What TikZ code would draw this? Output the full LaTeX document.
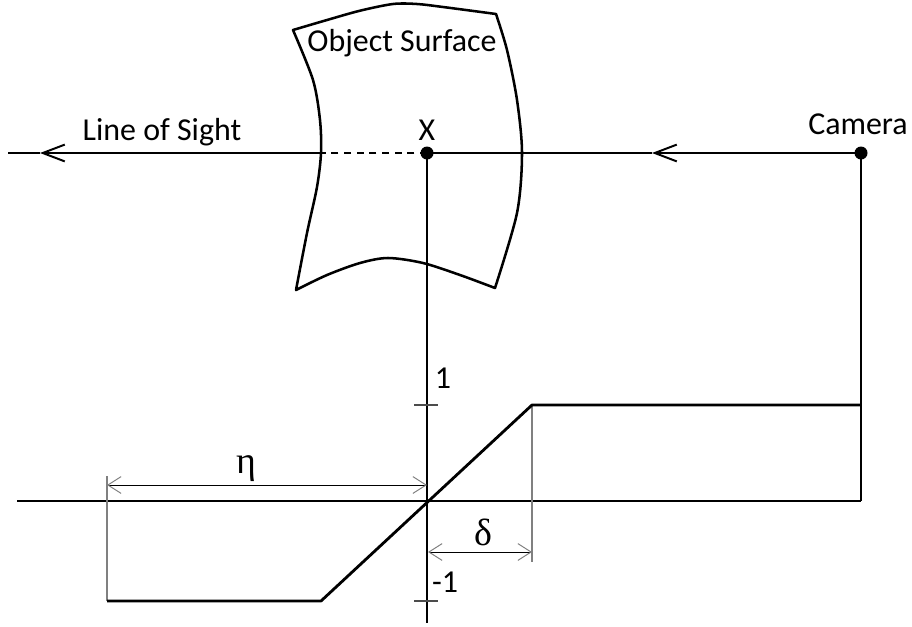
\documentclass[tikz,border=0pt]{standalone}
\usepackage{fontspec}
\setmainfont{Carlito}
\newfontfamily\greekfont{Liberation Serif}
\usetikzlibrary{arrows.meta}
\tikzset{
  sight/.style={line width=1.9pt},
  barb/.style={-{Straight Barb[length=0.55cm,width=0.42cm,line width=1.4pt]}},
  dimline/.style={line width=0.7pt,{Straight Barb[length=0.33cm,width=0.42cm,gray,line width=0.7pt]}-{Straight Barb[length=0.33cm,width=0.42cm,gray,line width=0.7pt]}},
  extline/.style={gray,line width=1.2pt},
  lbl/.style={inner sep=0pt,anchor=base,font=\fontsize{22.7}{26}\selectfont},
  greeklbl/.style={inner sep=0pt,anchor=base,font=\greekfont\fontsize{27}{30}\selectfont}
}
\begin{document}
\begin{tikzpicture}[x=0.025cm,y=-0.025cm,line join=round]
  \useasboundingbox (0,0) rectangle (912,626);
  \coordinate (cam) at (861,153); \coordinate (X) at (427,153);
  \coordinate (tipR) at (652,153); \coordinate (tipL) at (40,153);
  \coordinate (sL) at (321,153); \coordinate (losEnd) at (8,153);
  \coordinate (O) at (427,501);
  % object surface
  \draw[line width=1.8pt]
    plot[smooth] coordinates {(293,30) (327,20) (360,10.7) (393,4) (417,4) (443,7) (496,14)}
    -- plot[smooth] coordinates {(496,14) (507,50) (517,100) (522,153) (517,213) (495,288)}
    -- plot[smooth] coordinates {(495,288) (460,275) (423,263) (388,258) (360,263) (327,275) (296,290)}
    -- plot[smooth] coordinates {(296,290) (307,233) (317,187) (321,153) (320,120) (313,80) (293,30)} -- cycle;
  \node[lbl] (surf) at (402,51.7) {Object Surface};
  % line of sight
  \draw[sight,barb] (cam) -- (tipR);
  \draw[sight] (tipR) -- (X);
  \draw[sight,dash pattern=on 5pt off 4pt] (X) -- (sL);
  \draw[sight,barb] (sL) -- (tipL);
  \draw[sight] (tipL) -- (losEnd);
  \fill (cam) circle (6.5); \fill (X) circle (6.5);
  \node[lbl] (camlbl) at (858,134.3) {Camera};
  \node[lbl] (xlbl) at (427,140) {X};
  \node[lbl] (loslbl) at (162,140) {Line of Sight};
  % axes
  \draw[line width=0.8pt] (17,501) -- (861,501);
  \draw[line width=0.8pt] (X) -- (427,623);
  \draw[line width=0.8pt] (cam) -- (861,501);
  \draw[line width=0.8pt,black!70] (414,405) -- (438,405) (414,601) -- (438,601);
  \node[lbl] (one) at (443,388.3) {1};
  \node[lbl] (mone) at (445,592) {-1};
  % extension and dimension lines
  \draw[extline] (107,476) -- (107,601);
  \draw[extline] (532,405) -- (532,562);
  \draw[dimline] (107,485) -- (427,485);
  \draw[dimline] (428,552) -- (532,552);
  \node[greeklbl] (eta) at (246,473) {η};
  \node[greeklbl] (delta) at (483,545) {δ};
  % response curve
  \draw[line width=2pt] (107,601) -- (321,601) -- (532,405) -- (861,405);
\end{tikzpicture}
\end{document}
